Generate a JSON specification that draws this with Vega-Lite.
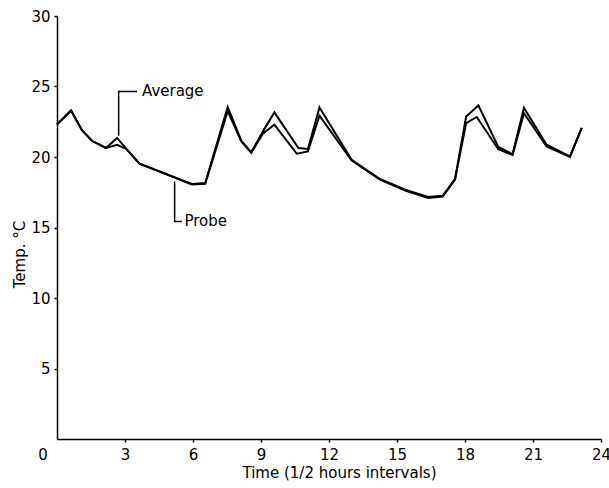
{
  "$schema": "https://vega.github.io/schema/vega-lite/v6.json",
  "width": 544,
  "height": 423,
  "autosize": "none",
  "padding": {"left": 57, "top": 16, "right": 8, "bottom": 49},
  "background": "white",
  "config": {
    "view": {"stroke": null},
    "font": "DejaVu Sans",
    "axis": {"labelFont": "DejaVu Sans", "titleFont": "DejaVu Sans", "labelColor": "black", "titleColor": "black", "domainColor": "black", "tickColor": "black", "grid": false, "labelFontSize": 15, "titleFontSize": 15, "titleFontWeight": "normal", "domainWidth": 1.5, "tickWidth": 1.5}
  },
  "datasets": {
    "temps": [
      {"series": "Average", "t": 0, "v": 22.3},
      {"series": "Average", "t": 0.62, "v": 23.3},
      {"series": "Average", "t": 1.1, "v": 21.9},
      {"series": "Average", "t": 1.54, "v": 21.15},
      {"series": "Average", "t": 2.16, "v": 20.64},
      {"series": "Average", "t": 2.65, "v": 21.35},
      {"series": "Average", "t": 3.06, "v": 20.57},
      {"series": "Average", "t": 3.64, "v": 19.52},
      {"series": "Average", "t": 5.95, "v": 18.09},
      {"series": "Average", "t": 6.54, "v": 18.16},
      {"series": "Average", "t": 7.53, "v": 23.55},
      {"series": "Average", "t": 8.13, "v": 21.16},
      {"series": "Average", "t": 8.57, "v": 20.33},
      {"series": "Average", "t": 9.08, "v": 21.8},
      {"series": "Average", "t": 9.59, "v": 23.16},
      {"series": "Average", "t": 10.65, "v": 20.64},
      {"series": "Average", "t": 11.07, "v": 20.57},
      {"series": "Average", "t": 11.58, "v": 23.52},
      {"series": "Average", "t": 13.0, "v": 19.8},
      {"series": "Average", "t": 14.25, "v": 18.44},
      {"series": "Average", "t": 15.36, "v": 17.68},
      {"series": "Average", "t": 16.38, "v": 17.16},
      {"series": "Average", "t": 17.02, "v": 17.26},
      {"series": "Average", "t": 17.56, "v": 18.44},
      {"series": "Average", "t": 18.05, "v": 22.88},
      {"series": "Average", "t": 18.59, "v": 23.66},
      {"series": "Average", "t": 19.47, "v": 20.71},
      {"series": "Average", "t": 20.1, "v": 20.21},
      {"series": "Average", "t": 20.6, "v": 23.48},
      {"series": "Average", "t": 21.6, "v": 20.87},
      {"series": "Average", "t": 22.63, "v": 20.04},
      {"series": "Average", "t": 23.15, "v": 22.06},
      {"series": "Probe", "t": 0, "v": 22.3},
      {"series": "Probe", "t": 0.62, "v": 23.3},
      {"series": "Probe", "t": 1.1, "v": 21.9},
      {"series": "Probe", "t": 1.54, "v": 21.15},
      {"series": "Probe", "t": 2.16, "v": 20.64},
      {"series": "Probe", "t": 2.65, "v": 20.87},
      {"series": "Probe", "t": 3.06, "v": 20.57},
      {"series": "Probe", "t": 3.64, "v": 19.52},
      {"series": "Probe", "t": 5.95, "v": 18.05},
      {"series": "Probe", "t": 6.54, "v": 18.1},
      {"series": "Probe", "t": 7.53, "v": 23.25},
      {"series": "Probe", "t": 8.13, "v": 21.1},
      {"series": "Probe", "t": 8.57, "v": 20.3},
      {"series": "Probe", "t": 9.08, "v": 21.65},
      {"series": "Probe", "t": 9.59, "v": 22.29},
      {"series": "Probe", "t": 10.58, "v": 20.23},
      {"series": "Probe", "t": 11.07, "v": 20.4},
      {"series": "Probe", "t": 11.58, "v": 22.93},
      {"series": "Probe", "t": 13.0, "v": 19.75},
      {"series": "Probe", "t": 14.25, "v": 18.4},
      {"series": "Probe", "t": 15.36, "v": 17.62},
      {"series": "Probe", "t": 16.38, "v": 17.1},
      {"series": "Probe", "t": 17.02, "v": 17.2},
      {"series": "Probe", "t": 17.56, "v": 18.4},
      {"series": "Probe", "t": 18.05, "v": 22.41},
      {"series": "Probe", "t": 18.52, "v": 22.84},
      {"series": "Probe", "t": 19.47, "v": 20.55},
      {"series": "Probe", "t": 20.1, "v": 20.15},
      {"series": "Probe", "t": 20.6, "v": 23.1},
      {"series": "Probe", "t": 21.6, "v": 20.75},
      {"series": "Probe", "t": 22.63, "v": 20.0},
      {"series": "Probe", "t": 23.15, "v": 22.06}
    ],
    "leaders": [
      {"grp": "Average", "ord": 1, "t": 2.72, "v": 21.51},
      {"grp": "Average", "ord": 2, "t": 2.72, "v": 24.65},
      {"grp": "Average", "ord": 3, "t": 3.53, "v": 24.65},
      {"grp": "Probe", "ord": 1, "t": 5.19, "v": 18.27},
      {"grp": "Probe", "ord": 2, "t": 5.19, "v": 15.43},
      {"grp": "Probe", "ord": 3, "t": 5.51, "v": 15.43}
    ],
    "labels": [
      {"label": "Average", "t": 3.75, "v": 24.65},
      {"label": "Probe", "t": 5.62, "v": 15.43}
    ],
    "corner": [
      {"label": "0", "t": 0, "v": 0}
    ]
  },
  "layer": [
    {
      "data": {"name": "temps"},
      "mark": {"type": "line", "color": "black", "strokeWidth": 2, "strokeJoin": "miter"},
      "encoding": {
        "x": {"field": "t", "type": "quantitative", "scale": {"domain": [0, 24], "nice": false}, "axis": {"values": [3, 6, 9, 12, 15, 18, 21, 24], "tickSize": 3, "labelPadding": 5, "title": "Time (1/2 hours intervals)", "titleX": 282, "titleY": 33, "titleBaseline": "middle", "labelFlush": false}},
        "y": {"field": "v", "type": "quantitative", "scale": {"domain": [0, 30], "nice": false}, "axis": {"values": [5, 10, 15, 20, 25, 30], "tickSize": 3, "labelPadding": 4, "title": "Temp. °C", "titleX": -38, "titleY": 238, "titleAlign": "center", "titleBaseline": "middle", "titleAngle": -90}},
        "detail": {"field": "series"}
      }
    },
    {
      "data": {"name": "leaders"},
      "mark": {"type": "line", "color": "black", "strokeWidth": 1.5},
      "encoding": {
        "x": {"field": "t", "type": "quantitative"},
        "y": {"field": "v", "type": "quantitative"},
        "detail": {"field": "grp"},
        "order": {"field": "ord"}
      }
    },
    {
      "data": {"name": "labels"},
      "mark": {"type": "text", "align": "left", "baseline": "middle", "fontSize": 15, "font": "DejaVu Sans", "color": "black"},
      "encoding": {
        "x": {"field": "t", "type": "quantitative"},
        "y": {"field": "v", "type": "quantitative"},
        "text": {"field": "label"}
      }
    },
    {
      "data": {"name": "corner"},
      "mark": {"type": "text", "align": "center", "baseline": "middle", "fontSize": 15, "font": "DejaVu Sans", "color": "black", "dx": -14, "dy": 16},
      "encoding": {
        "x": {"field": "t", "type": "quantitative"},
        "y": {"field": "v", "type": "quantitative"},
        "text": {"field": "label"}
      }
    }
  ]
}
